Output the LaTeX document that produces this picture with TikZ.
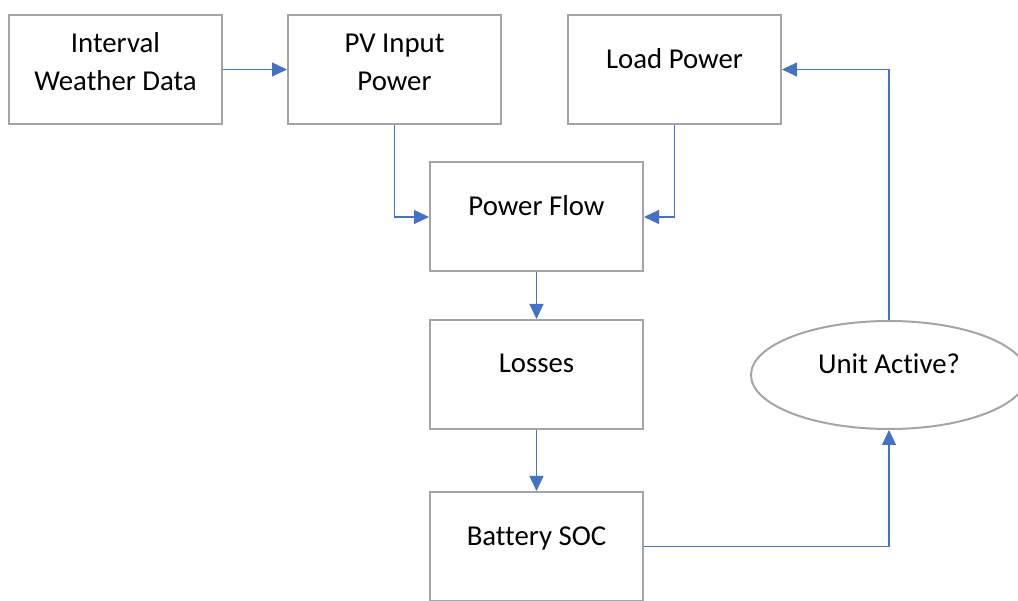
\documentclass[tikz,border=0pt]{standalone}
\usepackage{fontspec}
\setmainfont{Carlito}[Ligatures=NoCommon]
\usetikzlibrary{arrows.meta,shapes.geometric}
\definecolor{boxgray}{HTML}{A5A5A5}
\definecolor{arrowblue}{HTML}{4472C4}
\begin{document}
\begin{tikzpicture}[x=1pt,y=-1pt,
  box/.style={draw=boxgray,line width=2pt,minimum width=213pt,minimum height=109pt,inner sep=0pt},
  oval/.style={ellipse,draw=boxgray,line width=2pt,minimum width=276pt,minimum height=108pt,inner sep=0pt},
  lbl/.style={font=\fontsize{28.8}{38.4}\selectfont,align=center,anchor=base,inner sep=0pt},
  flow/.style={draw=arrowblue,line width=1.1pt,-{Triangle[length=15pt,width=14pt]}}]
\useasboundingbox (0,0) rectangle (1018,601);
\clip (0,0) rectangle (1018,601);
\node[box] (iw) at (115.5,69.5) {};
\node[box] (pv) at (394.5,69.5) {};
\node[box] (lp) at (674.5,69.5) {};
\node[box] (pf) at (536.5,217) {};
\node[box] (lo) at (536.5,374.5) {};
\node[box] (bs) at (536.5,546.5) {};
\node[oval] (ua) at (889,375) {};
\node[lbl] (tiw) at (115.5,90.7) {Interval\\Weather Data};
\node[lbl] (tpv) at (394.5,90.7) {PV Input\\Power};
\node[lbl] (tlp) at (674.5,68.3) {Load Power};
\node[lbl] (tpf) at (536.5,215.5) {Power Flow};
\node[lbl] (tlo) at (536.5,373) {Losses};
\node[lbl] (tbs) at (536.5,545) {Battery SOC};
\node[lbl] (tua) at (889,374) {Unit Active?};
\draw[flow] (iw) -- (pv);
\draw[flow] (pv.south) |- (pf.west);
\draw[flow] (lp.south) |- (pf.east);
\draw[flow] (pf) -- (lo);
\draw[flow] (lo) -- (bs);
\draw[flow] (bs.east) -| (ua.south);
\draw[flow] (ua.north) |- (lp.east);
\end{tikzpicture}
\end{document}
